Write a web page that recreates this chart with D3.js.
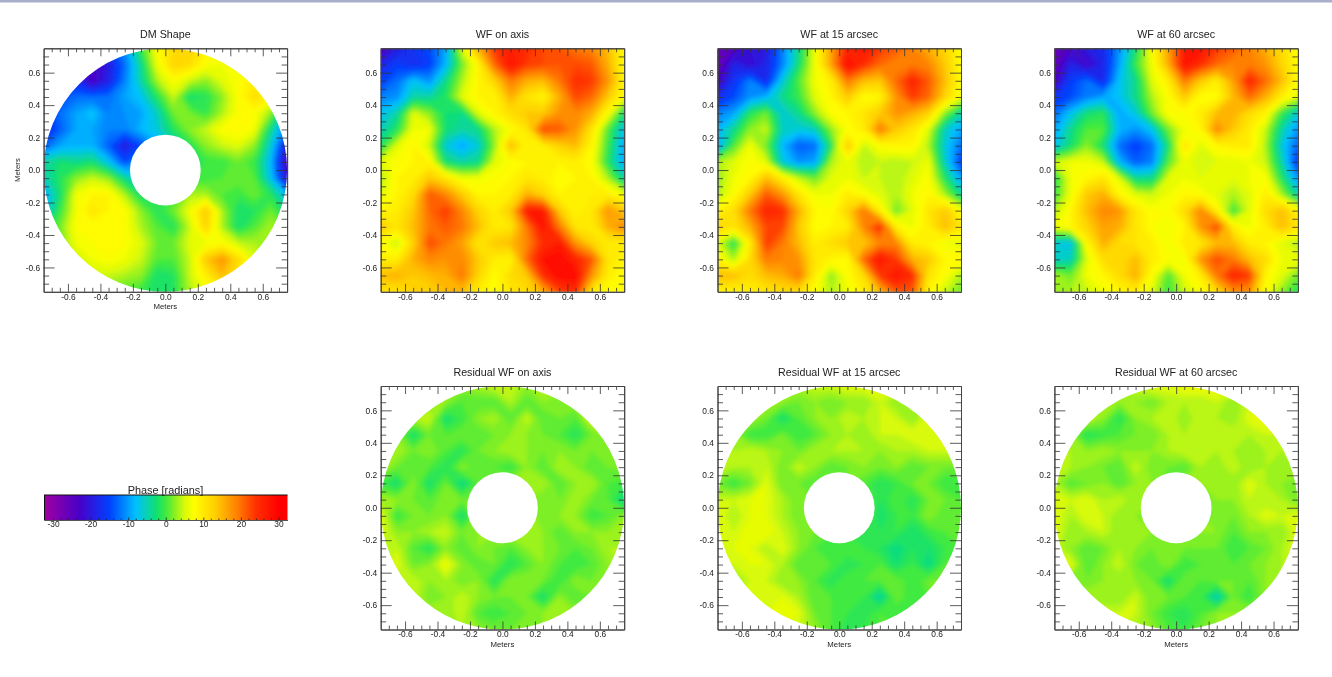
<!DOCTYPE html>
<html>
<head>
<meta charset="utf-8">
<script src="https://cdn.jsdelivr.net/npm/d3@7"></script>
<style>
  body { margin: 0; background: #fff; }
  svg { display: block; filter: blur(0.5px); }
  text { font-family: "Liberation Sans", Arial, sans-serif; fill: #222; }
</style>
</head>
<body>
<svg width="1332" height="677"></svg>
<script>
// phase in radians on a 0.1 m grid
// rows run from y=+0.75 down to y=-0.75, columns from x=-0.75 to x=+0.75
const dmShape = [
  -16,-18,-20,-18,-14,-10,0,8,12,13,9,8,7,7,6,5,
  -16,-17,-19,-23,-19,-12,-3,7,13,12,8,7,7,7,7,6,
  -14,-15,-17,-23,-18,-11,-4,4,8,5,3,6,8,10,8,7,
  -15,-14,-12,-12,-12,-9,-7,-1,5,-2,-1,3,8,12,9,5,
  -16,-12,-9,-7,-11,-10,-9,-5,2,2,0,4,8,8,3,-7,
  -18,-13,-9,-9,-11,-11,-8,-6,-1,3,5,8,9,7,-3,-12,
  -13,-9,-8,-8,-13,-19,-14,-9,-5,-1,3,5,6,3,-6,-19,
  -4,-2,-3,-2,-7,-14,-10,-6,-3,-1,0,0,2,0,-8,-23,
  -5,-1,3,5,3,-3,-6,-4,-1,0,0,1,2,1,-7,-20,
  -9,-2,7,9,9,4,-2,-1,0,4,4,1,0,2,-1,-8,
  -8,0,7,11,9,8,3,-1,2,7,14,4,-2,-1,2,-3,
  -2,2,8,8,8,8,4,1,-1,5,13,4,-2,1,4,1,
  0,2,7,8,8,8,6,2,2,6,7,8,5,4,3,2,
  1,2,5,7,8,7,5,1,1,5,14,18,12,6,4,3,
  0,1,3,5,5,4,3,-2,-1,5,10,15,11,5,4,3,
  0,0,1,2,2,1,0,-2,-1,4,7,9,7,4,3,2
];

const wfOnAxis = [
  -24,-19,-16,-14,-9,6,16,24,27,25,23,22,20,19,15,8,
  -18,-15,-17,-15,-8,2,9,21,28,24,23,22,23,22,16,8,
  -15,-12,-7,-10,-3,4,9,13,20,16,15,20,25,24,18,9,
  -11,-10,-4,-4,-1,6,9,9,16,11,9,16,23,21,14,8,
  -7,-4,6,3,-2,-3,6,9,12,14,14,18,19,16,8,-2,
  -5,-1,7,7,-2,-4,-3,4,8,11,23,22,18,11,1,-7,
  -1,6,9,5,-6,-9,-6,3,15,9,10,13,15,9,0,-9,
  6,8,9,9,-2,-4,-3,6,8,9,9,9,10,8,-1,-9,
  4,9,10,14,11,7,7,8,9,11,10,8,9,9,4,-4,
  6,9,12,22,19,14,9,9,10,16,13,9,9,10,10,7,
  9,10,14,21,24,19,13,10,14,27,27,14,9,11,18,14,
  14,11,15,20,22,20,15,10,11,20,28,20,11,10,16,19,
  8,5,13,23,20,17,11,14,15,19,25,27,18,13,10,10,
  10,10,16,19,18,19,14,10,9,21,28,29,26,22,11,9,
  15,16,14,15,16,20,13,8,12,14,25,29,29,18,10,8,
  11,11,13,13,15,15,10,8,11,12,16,23,25,11,8,8
];

const wf15 = [
  -26,-24,-20,-19,-11,-3,7,17,26,28,24,22,19,16,13,8,
  -27,-18,-21,-18,-11,-2,7,17,29,25,21,19,20,19,14,8,
  -23,-16,-11,-17,-6,1,7,10,20,15,14,21,26,22,15,8,
  -17,-14,-10,-8,-3,0,6,9,14,8,9,18,24,21,13,7,
  -11,-9,-1,2,-6,-3,3,8,9,11,14,18,16,13,3,-4,
  -8,-3,3,5,-5,-6,-5,3,8,10,20,14,11,6,-5,-9,
  -9,1,7,2,-8,-13,-12,-1,14,5,8,9,9,4,-6,-12,
  4,6,8,6,-6,-10,-9,4,7,4,5,4,5,7,-5,-15,
  3,7,9,15,10,5,2,6,7,5,5,4,6,8,-1,-9,
  4,8,14,22,18,11,7,7,10,8,6,4,7,9,4,-3,
  9,12,20,26,25,16,9,8,13,20,10,2,6,11,14,8,
  13,11,16,23,23,14,8,9,10,19,25,10,7,10,15,11,
  6,-1,10,24,20,15,10,12,14,14,19,19,10,9,7,6,
  9,4,12,20,19,18,11,9,8,21,28,24,16,14,9,9,
  15,15,12,15,16,20,10,3,8,12,24,28,25,11,8,4,
  9,9,10,11,12,12,8,4,7,10,15,22,22,9,5,2
];

const wf60 = [
  -26,-23,-19,-17,-10,-2,8,17,27,28,24,22,19,16,12,8,
  -26,-18,-22,-18,-9,0,7,16,28,25,21,19,20,18,13,8,
  -23,-15,-12,-17,-7,-3,6,10,20,14,10,17,26,21,15,8,
  -16,-14,-11,-9,-7,-3,4,8,14,8,8,15,21,16,10,6,
  -12,-7,-2,-1,-9,-6,2,8,8,10,15,16,12,9,0,-6,
  -9,-3,1,1,-8,-10,-7,2,7,9,19,14,10,5,-4,-10,
  -7,-2,3,-2,-12,-15,-12,-2,11,6,9,10,10,4,-6,-13,
  5,7,7,5,-8,-13,-11,1,7,5,6,6,7,5,-4,-16,
  -1,7,9,11,6,-3,-3,6,7,6,6,6,7,8,-1,-10,
  0,7,14,16,9,6,5,7,9,8,6,4,6,10,4,-4,
  4,9,15,19,18,11,8,8,12,19,10,0,6,12,15,9,
  7,9,13,17,16,11,8,7,9,18,23,10,7,10,15,11,
  -6,-7,9,16,12,11,10,7,10,11,15,15,10,9,6,4,
  -5,-5,6,12,12,15,10,8,7,18,23,20,15,12,7,7,
  4,2,7,9,12,16,8,1,7,10,20,26,24,9,6,2,
  3,4,5,7,9,10,6,0,5,8,12,18,18,8,3,-1
];

const resOnAxis = [
  3,3,3,3,3,3,4,5,5,3,5,4,4,4,4,4,
  3,3,3,3,3,1,1,1,4,1,3,2,3,3,3,3,
  4,4,4,5,-2,0,3,4,1,5,1,2,1,6,4,4,
  3,3,-2,2,1,2,1,2,3,3,2,1,-1,2,3,3,
  3,4,2,3,1,-1,2,3,4,3,2,3,2,2,2,3,
  4,2,1,1,-1,3,1,1,0,3,1,4,3,1,2,3,
  0,-2,3,-2,2,-3,1,3,3,3,4,1,3,4,1,0,
  4,3,2,1,3,2,2,3,3,3,2,2,4,2,1,-3,
  6,0,2,2,3,-2,3,3,3,4,2,3,3,0,1,3,
  6,3,3,4,5,2,3,3,4,3,3,1,3,3,3,3,
  4,5,1,-1,3,1,3,2,1,3,3,2,1,2,4,4,
  4,6,2,3,7,3,1,2,-1,1,3,1,0,1,3,4,
  4,4,5,3,4,2,3,-1,3,3,2,0,3,2,3,4,
  4,4,5,2,3,5,3,2,2,2,-2,3,1,2,3,4,
  4,4,4,4,3,5,1,0,1,2,3,3,3,2,3,3,
  3,3,3,3,3,4,3,2,2,2,3,3,3,3,3,3
];

const res15 = [
  5,5,5,4,4,4,5,5,6,6,6,6,5,5,5,5,
  3,3,3,4,3,2,3,2,3,3,5,3,3,4,5,5,
  4,4,4,2,-2,1,3,3,5,4,5,5,3,6,6,5,
  3,3,0,0,2,0,1,3,4,3,5,5,6,5,5,5,
  5,4,5,4,3,2,4,4,4,4,3,4,4,5,5,5,
  5,4,4,5,2,5,3,1,2,3,2,3,1,2,2,2,
  2,0,2,6,2,2,1,1,2,1,-1,0,2,2,0,0,
  5,5,6,6,4,2,2,3,2,2,-1,1,-1,2,2,1,
  6,4,6,6,4,2,3,3,3,2,-2,0,0,3,1,2,
  6,5,7,7,5,3,2,1,0,-1,-1,0,-2,0,1,2,
  5,6,6,4,6,3,1,0,1,0,-1,-3,-1,-2,0,1,
  5,5,6,6,4,1,2,1,-1,0,1,-2,0,-3,1,3,
  4,3,5,5,3,3,1,-1,1,1,1,2,0,2,2,4,
  5,5,6,5,6,4,1,1,0,0,-4,2,0,1,4,5,
  5,5,6,6,6,6,2,1,0,-1,1,0,1,2,5,5,
  5,5,6,6,6,5,3,1,-1,0,1,1,2,4,5,5
];

const res60 = [
  6,6,6,5,5,5,6,6,7,7,7,6,6,6,6,6,
  4,4,4,4,3,3,2,4,4,4,5,3,5,6,6,6,
  5,5,5,3,-1,3,4,5,3,5,4,3,6,7,6,6,
  3,3,-1,0,1,2,2,4,4,4,5,5,4,5,5,5,
  5,4,3,4,3,3,3,4,5,4,4,4,3,4,4,4,
  5,4,3,2,1,5,2,2,1,4,3,5,3,4,3,4,
  4,1,2,3,1,3,3,1,3,3,4,3,6,4,3,2,
  6,5,6,4,5,3,4,4,4,2,3,3,5,4,4,2,
  6,4,6,5,3,3,1,3,3,3,2,2,4,6,5,6,
  6,3,4,5,3,3,3,3,4,3,3,1,3,3,3,6,
  5,3,1,2,4,3,2,2,2,2,2,0,1,2,4,6,
  5,6,1,3,5,2,1,3,0,1,1,1,2,3,4,6,
  4,2,2,3,3,3,2,-2,2,1,2,2,1,3,4,5,
  5,5,4,3,3,5,2,2,1,0,-5,2,0,3,5,5,
  5,5,5,5,5,5,2,0,-1,1,3,3,3,4,5,5,
  5,5,5,5,5,4,3,1,0,2,3,4,5,5,5,5
];

const gridCols = 16;
const majorTicks = [-0.6, -0.4, -0.2, 0, 0.2, 0.4, 0.6];
const minorTicks = [-0.7, -0.65, -0.55, -0.5, -0.45, -0.35, -0.3, -0.25, -0.15, -0.1, -0.05,
  0.05, 0.1, 0.15, 0.25, 0.3, 0.35, 0.45, 0.5, 0.55, 0.65, 0.7];
const barTicks = [-30, -20, -10, 0, 10, 20, 30];
const barMinor = [-28, -26, -24, -22, -18, -16, -14, -12, -8, -6, -4, -2, 2, 4, 6, 8, 12, 14, 16, 18, 22, 24, 26, 28];
const colorValues = [-32.4, -23, -15, -8, -2.5, 0, 2.5, 5, 7.5, 13, 19, 24, 30, 32.4];
const colorNames = ["#a000a0", "#4800c8", "#0040ff", "#00c0ff", "#10e070", "#40ea40", "#8cf020", "#d8fa08",
  "#ffff00", "#ffd000", "#ff8000", "#ff3000", "#ff0000", "#ff0000"];

const panels = [
  { title: "DM Shape", data: dmShape, x: 43.6, y: 48.3, hole: true, xlabel: true, ylabel: true },
  { title: "WF on axis", data: wfOnAxis, x: 380.7, y: 48.3, hole: false },
  { title: "WF at 15 arcsec", data: wf15, x: 717.5, y: 48.3, hole: false },
  { title: "WF at 60 arcsec", data: wf60, x: 1054.4, y: 48.3, hole: false },
  { title: "Residual WF on axis", data: resOnAxis, x: 380.7, y: 386, hole: true, xlabel: true },
  { title: "Residual WF at 15 arcsec", data: res15, x: 717.5, y: 386, hole: true, xlabel: true },
  { title: "Residual WF at 60 arcsec", data: res60, x: 1054.4, y: 386, hole: true, xlabel: true }
];

const svg = d3.select("svg");
const size = 243.5;
const holeRadius = 0.218;
const tickFormat = d => d.toFixed(1);

const color = d3.scaleLinear().domain(colorValues).range(colorNames).clamp(true);
const thresholds = d3.range(-32, 33, 1);
const contours = d3.contours().size([gridCols, gridCols]).thresholds(thresholds);

const defs = svg.append("defs");
defs.append("filter")
  .attr("id", "soft")
  .attr("x", "-5%").attr("y", "-5%").attr("width", "110%").attr("height", "110%")
  .append("feGaussianBlur")
  .attr("stdDeviation", 2.2);

// top rule of the page
svg.append("rect")
  .attr("width", 1332)
  .attr("height", 2.5)
  .attr("fill", "#a9aecb");

const x = d3.scaleLinear().domain([-0.75, 0.75]).range([0, size]);
const y = d3.scaleLinear().domain([-0.75, 0.75]).range([size, 0]);

// grid index -> metres -> pixels
const gridPath = d3.geoPath(d3.geoTransform({
  point(cx, cy) {
    this.stream.point(x(-0.75 + (cx - 0.5) * 0.1), y(0.75 - (cy - 0.5) * 0.1));
  }
}));

function circlePath(r) {
  const rx = x(r) - x(0);
  const c = x(0);
  return `M${c - rx},${c}A${rx},${rx} 0 1,0 ${c + rx},${c}A${rx},${rx} 0 1,0 ${c - rx},${c}Z`;
}

function drawAxes(g) {
  // ticks point inward; the y ticks are longer than the x ticks, as in the original
  const axes = [
    { gen: () => d3.axisLeft(y), at: [0, 0], labels: true, major: 11, minor: 5.5 },
    { gen: () => d3.axisBottom(x), at: [0, size], labels: true, up: true, major: 8, minor: 4 },
    { gen: () => d3.axisRight(y), at: [size, 0], major: 11, minor: 5.5 },
    { gen: () => d3.axisTop(x), at: [0, 0], major: 8, minor: 4 }
  ];
  axes.forEach(a => {
    const minor = a.gen().tickValues(minorTicks).tickSize(-a.minor).tickSizeOuter(0).tickFormat("");
    const major = a.gen().tickValues(majorTicks).tickSize(-a.major).tickSizeOuter(0).tickPadding(3.5)
      .tickFormat(a.labels ? tickFormat : "");
    const at = `translate(${a.at[0]},${a.at[1]})`;
    g.append("g").attr("transform", at).call(minor);
    const m = g.append("g").attr("transform", at).call(major);
    m.selectAll("text").style("font-size", "8.4px");
    if (a.up) m.selectAll("text").attr("y", 2);
  });
  g.selectAll(".domain").attr("stroke", "#444");
  g.selectAll(".tick line").attr("stroke", "#333").attr("stroke-width", 0.8);
}

panels.forEach((p, i) => {
  const g = svg.append("g").attr("transform", `translate(${p.x},${p.y})`);
  const clipId = "clip" + i;
  const clip = defs.append("clipPath").attr("id", clipId);
  if (p.hole) {
    clip.append("path")
      .attr("clip-rule", "evenodd")
      .attr("d", circlePath(0.75) + circlePath(holeRadius));
  } else {
    clip.append("rect").attr("width", size).attr("height", size);
  }

  const image = g.append("g")
    .attr("clip-path", `url(#${clipId})`)
    .append("g")
    .attr("filter", "url(#soft)");

  image.append("rect")
    .attr("x", -12).attr("y", -12)
    .attr("width", size + 24).attr("height", size + 24)
    .attr("fill", color(d3.min(p.data)));

  image.selectAll("path")
    .data(contours(p.data))
    .enter().append("path")
    .attr("d", gridPath)
    .attr("fill", d => color(d.value));

  drawAxes(g);

  g.append("text")
    .attr("x", size / 2)
    .attr("y", -10)
    .attr("text-anchor", "middle")
    .style("font-size", "10.7px")
    .text(p.title);

  if (p.xlabel) {
    g.append("text")
      .attr("x", size / 2)
      .attr("y", size + 17.5)
      .attr("text-anchor", "middle")
      .style("font-size", "7.8px")
      .text("Meters");
  }
  if (p.ylabel) {
    g.append("text")
      .attr("transform", `translate(-24,${size / 2}) rotate(-90)`)
      .attr("text-anchor", "middle")
      .style("font-size", "7.8px")
      .text("Meters");
  }
});

// colour bar
const barX = d3.scaleLinear().domain([-32.4, 32.4]).range([44, 287.5]);
const barTop = 495;
const barHeight = 25;

const gradient = defs.append("linearGradient").attr("id", "phase");
gradient.selectAll("stop")
  .data(colorValues)
  .enter().append("stop")
  .attr("offset", d => (d + 32.4) / 64.8)
  .attr("stop-color", d => color(d));

svg.append("rect")
  .attr("x", barX(-32.4))
  .attr("y", barTop)
  .attr("width", barX(32.4) - barX(-32.4))
  .attr("height", barHeight)
  .attr("fill", "url(#phase)");

svg.append("line")
  .attr("x1", 44.5).attr("x2", 44.5)
  .attr("y1", barTop).attr("y2", barTop + barHeight)
  .attr("stroke", "#111");

svg.append("line")
  .attr("x1", 44).attr("x2", 287.5)
  .attr("y1", barTop).attr("y2", barTop)
  .attr("stroke", "#111");

const barAxis = svg.append("g")
  .attr("transform", `translate(0,${barTop + barHeight})`)
  .call(d3.axisBottom(barX).tickValues(barTicks).tickSize(-2.5).tickSizeOuter(0).tickPadding(2.5).tickFormat(d => String(d)));
barAxis.append("g")
  .call(d3.axisBottom(barX).tickValues(barMinor).tickSize(-1.5).tickSizeOuter(0).tickFormat(""));
barAxis.selectAll(".domain").attr("stroke", "#555");
barAxis.selectAll("line").attr("stroke", "#222").attr("stroke-width", 0.8);
barAxis.selectAll("text").style("font-size", "8.4px").attr("y", 1.5);

svg.append("text")
  .attr("x", 165.5)
  .attr("y", 493.5)
  .attr("text-anchor", "middle")
  .style("font-size", "10.9px")
  .text("Phase [radians]");
</script>
</body>
</html>
